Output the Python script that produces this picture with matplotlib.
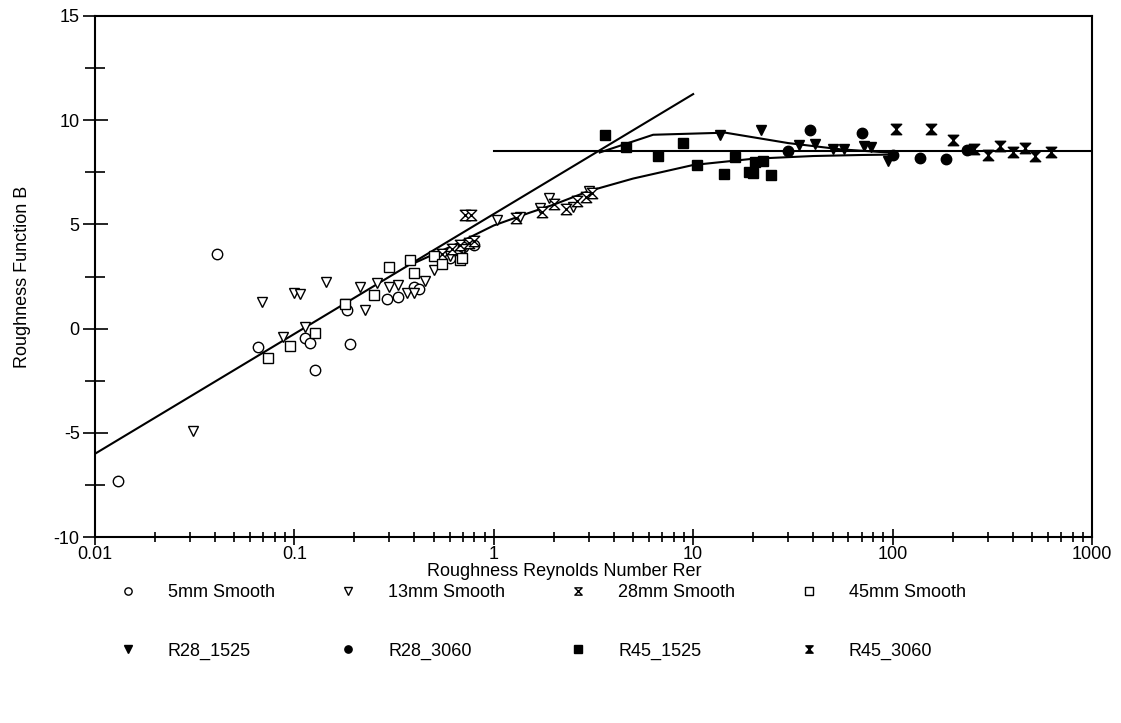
import numpy as np
import matplotlib
matplotlib.use('Agg')
import matplotlib.pyplot as plt
from matplotlib.path import Path
from matplotlib.ticker import FixedLocator, LogLocator, FuncFormatter, NullFormatter

plt.rcParams['font.family'] = ['Liberation Sans', 'DejaVu Sans']
plt.rcParams['axes.unicode_minus'] = False

# smooth-wall test data (Rer, B)
s5_x = [0.013, 0.041, 0.066, 0.113, 0.12, 0.127, 0.184, 0.19, 0.29, 0.33, 0.40, 0.42, 0.60, 0.70, 0.80]
s5_b = [-7.3, 3.6, -0.9, -0.45, -0.7, -2.0, 0.9, -0.75, 1.4, 1.5, 2.0, 1.9, 3.4, 3.9, 4.0]

s13_x = [0.031, 0.069, 0.088, 0.10, 0.107, 0.113, 0.144, 0.18, 0.213, 0.225, 0.26, 0.30, 0.33, 0.366,
         0.40, 0.45, 0.50, 0.60, 0.70, 1.04, 1.35, 1.7, 1.9, 2.5, 3.0]
s13_b = [-4.9, 1.3, -0.4, 1.7, 1.65, 0.1, 2.25, 1.2, 2.0, 0.9, 2.2, 2.0, 2.1, 1.7,
         1.7, 2.3, 2.8, 3.5, 3.8, 5.2, 5.35, 5.8, 6.25, 5.85, 6.6]

s28_x = [0.55, 0.62, 0.68, 0.72, 0.75, 0.77, 0.80, 1.3, 1.75, 2.0, 2.3, 2.6, 2.9, 3.1]
s28_b = [3.6, 3.8, 4.0, 5.45, 4.1, 5.45, 4.2, 5.3, 5.6, 6.0, 5.75, 6.1, 6.3, 6.5]

s45_x = [0.074, 0.095, 0.127, 0.18, 0.25, 0.30, 0.38, 0.40, 0.50, 0.55, 0.68, 0.69]
s45_b = [-1.4, -0.85, -0.2, 1.2, 1.6, 2.95, 3.3, 2.65, 3.5, 3.1, 3.3, 3.4]

# rough-wall test data
r28_1525_x = [13.7, 22, 34, 41, 50, 57, 72, 78, 95]
r28_1525_b = [9.3, 9.55, 8.8, 8.85, 8.6, 8.6, 8.75, 8.7, 8.05]

r28_3060_x = [30, 38.5, 70, 100, 138, 185, 235]
r28_3060_b = [8.5, 9.55, 9.4, 8.35, 8.2, 8.15, 8.55]

r45_1525_x = [3.6, 4.6, 6.7, 8.9, 10.4, 14.2, 16.2, 19.0, 20.0, 20.5, 22.5, 24.5]
r45_1525_b = [9.3, 8.7, 8.3, 8.9, 7.85, 7.4, 8.25, 7.5, 7.45, 8.0, 8.05, 7.35]

r45_3060_x = [104, 156, 200, 255, 300, 345, 400, 460, 520, 620]
r45_3060_b = [9.6, 9.6, 9.05, 8.6, 8.35, 8.75, 8.45, 8.65, 8.3, 8.45]

# reference lines
smooth_x = [0.01, 10]
smooth_b = [-6.0, 11.25]
rough_x = [1, 1000]
rough_b = [8.5, 8.5]
upper_x = [3.4, 6.3, 14.5, 30, 55, 95]
upper_b = [8.45, 9.3, 9.4, 8.9, 8.6, 8.45]
lower_x = [0.4, 0.63, 1.0, 1.5, 2.0, 3.0, 5.0, 10, 20, 40, 70, 100]
lower_b = [3.15, 4.0, 4.95, 5.55, 5.95, 6.6, 7.2, 7.85, 8.15, 8.28, 8.33, 8.35]

hourglass = Path([(-1, 1), (1, 1), (-1, -1), (1, -1), (-1, 1)],
                 [Path.MOVETO, Path.LINETO, Path.LINETO, Path.LINETO, Path.CLOSEPOLY])

fs = 13
fig = plt.figure(figsize=(11.21, 7.23), dpi=100)
ax = fig.add_axes([0.0847, 0.257, 0.8894, 0.721])

for xs, ys in [(smooth_x, smooth_b), (rough_x, rough_b), (upper_x, upper_b), (lower_x, lower_b)]:
    ax.plot(xs, ys, color='black', lw=1.5, zorder=2)

ms = 7.5
h = {}
h['5mm'], = ax.plot(s5_x, s5_b, 'o', ms=ms, mfc='white', mec='black', mew=1.0, label='5mm Smooth')
h['13mm'], = ax.plot(s13_x, s13_b, 'v', ms=ms, mfc='white', mec='black', mew=1.0, label='13mm Smooth')
h['28mm'], = ax.plot(s28_x, s28_b, marker=hourglass, ls='none', ms=ms, mfc='white', mec='black', mew=1.0, label='28mm Smooth')
h['45mm'], = ax.plot(s45_x, s45_b, 's', ms=ms, mfc='white', mec='black', mew=1.0, label='45mm Smooth')
h['r28a'], = ax.plot(r28_1525_x, r28_1525_b, 'v', ms=ms, color='black', label='R28_1525')
h['r28b'], = ax.plot(r28_3060_x, r28_3060_b, 'o', ms=ms, color='black', label='R28_3060')
h['r45a'], = ax.plot(r45_1525_x, r45_1525_b, 's', ms=ms, color='black', label='R45_1525')
h['r45b'], = ax.plot(r45_3060_x, r45_3060_b, marker=hourglass, ls='none', ms=ms, color='black', label='R45_3060')

ax.set_xscale('log')
ax.set_xlim(0.01, 1000)
ax.set_ylim(-10, 15)
ax.xaxis.set_major_locator(FixedLocator([0.01, 0.1, 1, 10, 100, 1000]))
ax.xaxis.set_major_formatter(FuncFormatter(lambda v, p: '%g' % v))
ax.xaxis.set_minor_locator(LogLocator(base=10, subs=np.arange(2, 10)))
ax.xaxis.set_minor_formatter(NullFormatter())
ax.yaxis.set_major_locator(FixedLocator(np.arange(-10, 16, 5)))
ax.yaxis.set_minor_locator(FixedLocator(np.arange(-7.5, 15, 5)))
ax.tick_params(axis='x', which='major', direction='inout', length=11, width=1.2, labelsize=fs, pad=0.5)
ax.tick_params(axis='x', which='minor', direction='inout', length=7, width=1.2)
ax.tick_params(axis='y', which='major', direction='inout', length=18, width=1.2, labelsize=fs, pad=2)
ax.tick_params(axis='y', which='minor', direction='inout', length=14, width=1.2)
for sp in ax.spines.values():
    sp.set_linewidth(1.5)

ax.set_xlabel('Roughness Reynolds Number Rer', fontsize=fs)
ax.xaxis.set_label_coords(0.471, -0.05)
ax.set_ylabel('Roughness Function B', fontsize=fs)
ax.yaxis.set_label_coords(-0.064, 0.5)

order = ['5mm', 'r28a', '13mm', 'r28b', '28mm', 'r45a', '45mm', 'r45b']
fig.legend([h[k] for k in order], [h[k].get_label() for k in order], ncol=4,
           loc='upper left', bbox_to_anchor=(0.102, 0.192), frameon=False,
           fontsize=fs, markerscale=0.7, handlelength=1.5, handletextpad=1.47,
           columnspacing=3.3, labelspacing=2.3, borderpad=0, borderaxespad=0)

fig.savefig('out.png', dpi=100)
